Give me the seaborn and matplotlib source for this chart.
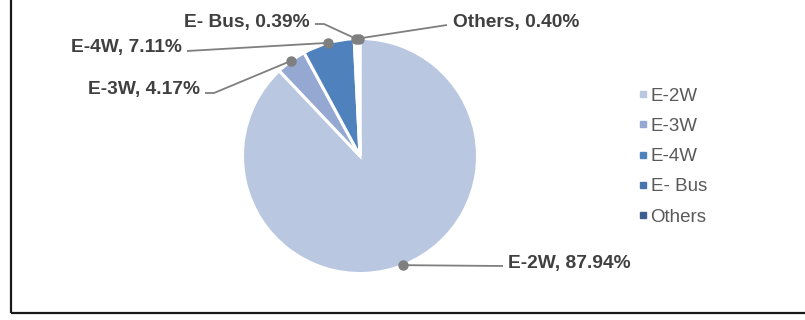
import numpy as np
import matplotlib
matplotlib.use("Agg")
import matplotlib.pyplot as plt
from matplotlib.patches import Rectangle
from matplotlib.lines import Line2D
import seaborn as sns

# ---- data ----
categories = ["E-2W", "E-3W", "E-4W", "E- Bus", "Others"]
shares = [87.94, 4.17, 7.11, 0.39, 0.40]
colors = ["#B9C7E1", "#94A8D2", "#4F81BD", "#4873AC", "#3D5F8F"]

sns.set_theme(style="white")
plt.rcParams["font.family"] = ["Liberation Sans", "DejaVu Sans"]

W, H = 805, 320
CX, CY, R = 360, 156, 117.5  # pie centre / radius in pixels


def px(x, y):
    return (x - CX) / R, (CY - y) / R


fig = plt.figure(figsize=(W / 100, H / 100), dpi=100)
ax = fig.add_axes([0, 0, 1, 1])

wedges, _ = ax.pie(shares, colors=colors, startangle=90, counterclock=False,
                   radius=1.0, center=(0, 0),
                   wedgeprops=dict(edgecolor="white", linewidth=2.2))
ax.set_xlim((0 - CX) / R, (W - CX) / R)
ax.set_ylim((CY - H) / R, (CY - 0) / R)
ax.set_aspect("equal")
ax.axis("off")

# label layout: (text x px, baseline y px, ha, leader path px)
layout = {
    "E-2W": (508, 268, "left", [(503, 266)]),
    "E-3W": (200, 94, "right", [(214, 93), (205, 93)]),
    "E-4W": (182, 52, "right", [(187, 51)]),
    "E- Bus": (310, 27, "right", [(324, 24), (315, 24)]),
    "Others": (453, 27, "left", [(447, 25)]),
}

line_col = "#7F7F7F"
txt_col = "#404040"
for w, cat, val in zip(wedges, categories, shares):
    ang = np.deg2rad((w.theta1 + w.theta2) / 2)
    dx, dy = np.cos(ang), np.sin(ang)
    tx, ty, ha, path = layout[cat]
    pts = [(dx, dy)] + [px(*p) for p in path]
    xs, ys = zip(*pts)
    ax.plot(xs, ys, color=line_col, lw=1.3, zorder=3, solid_capstyle="butt")
    ax.plot([dx], [dy], "o", color=line_col, ms=6.5, zorder=4)
    x0, y0 = px(tx, ty)
    ax.text(x0, y0, f"{cat}, {val:.2f}%", ha=ha, va="baseline",
            fontsize=13.8, fontweight="bold", color=txt_col)

handles = [Line2D([], [], marker="s", linestyle="none", markersize=5,
                  markerfacecolor=c, markeredgecolor=c) for c in colors]
leg = fig.legend(handles, categories, loc="center left",
                 bbox_to_anchor=(637 / W, 1 - 156.5 / H), frameon=False,
                 fontsize=13.5, labelspacing=0.70, handlelength=0.6,
                 handletextpad=0.12, borderpad=0, borderaxespad=0)
for t in leg.get_texts():
    t.set_color("#595959")

# outer frame (only left and bottom edges visible)
fig.add_artist(Rectangle((11 / W, 1 - 313 / H), 1.2, 1.2,
                         transform=fig.transFigure, fill=False,
                         edgecolor="#1A1A1A", linewidth=1.6, clip_on=False))

fig.savefig("out.png", dpi=100)
